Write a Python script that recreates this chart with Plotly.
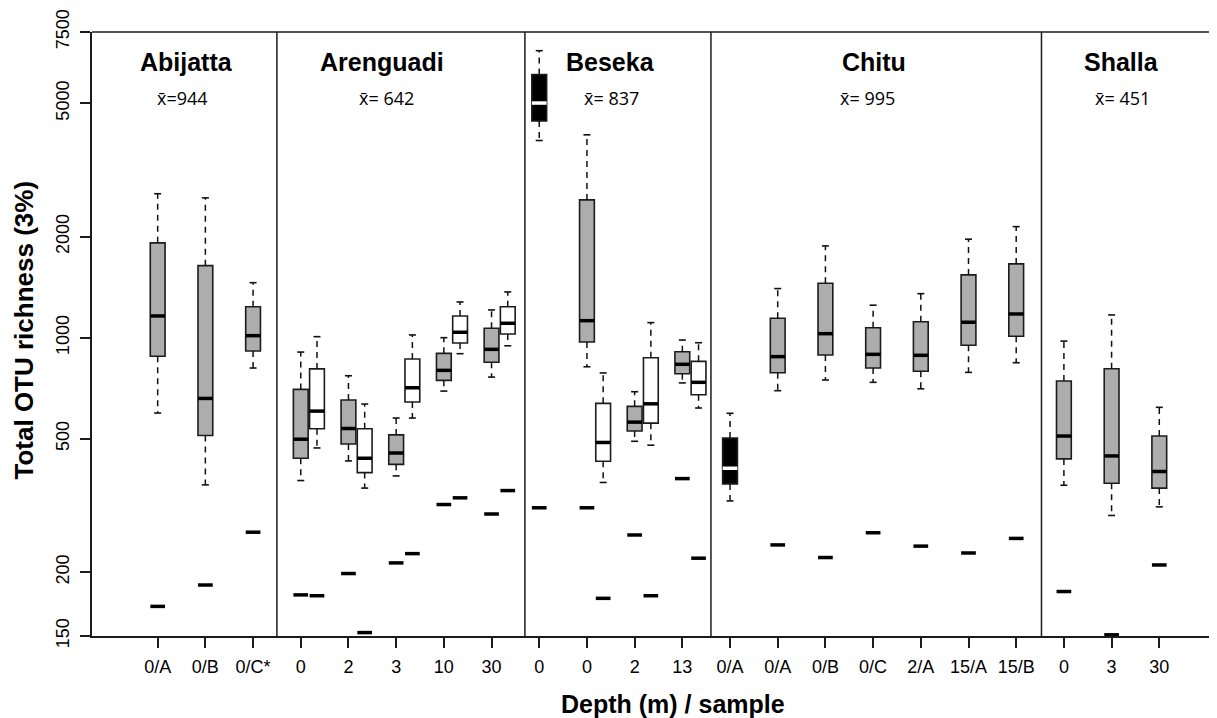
import plotly.graph_objects as go

# ---------------- data ----------------
tick_labels = ["0/A", "0/B", "0/C*",
               "0", "2", "3", "10", "30",
               "0", "0", "2", "13",
               "0/A", "0/A", "0/B", "0/C", "2/A", "15/A", "15/B",
               "0", "3", "30"]

lakes = ["Abijatta", "Arenguadi", "Beseka", "Chitu", "Shalla"]
lake_means = ["x\u0304=944", "x\u0304= 642", "x\u0304= 837", "x\u0304= 995", "x\u0304= 451"]

# one entry per box: tick slot, fill kind, five-number summary, single-value dash
box_slot = [0, 1, 2,
            3, 3, 4, 4, 5, 5, 6, 6, 7, 7,
            8, 9, 9, 10, 10, 11, 11,
            12, 13, 14, 15, 16, 17, 18,
            19, 20, 21]
box_kind = ["gray", "gray", "gray",
            "gray", "white", "gray", "white", "gray", "white", "gray", "white", "gray", "white",
            "black", "gray", "white", "gray", "white", "gray", "white",
            "black", "gray", "gray", "gray", "gray", "gray", "gray",
            "gray", "gray", "gray"]
lower = [596, 364, 812,
         375, 469, 429, 356, 387, 576, 693, 896, 763, 946,
         3873, 819, 370, 491, 478, 733, 617,
         326, 695, 748, 736, 704, 788, 842,
         363, 295, 313]
q1 = [880, 511, 913,
      437, 535, 482, 396, 419, 643, 746, 964, 845, 1026,
      4426, 971, 428, 527, 556, 781, 676,
      366, 786, 888, 812, 794, 949, 1010,
      435, 368, 356]
median = [1161, 659, 1014,
          498, 604, 536, 437, 453, 709, 799, 1038, 923, 1104,
          5009, 1124, 487, 560, 635, 833, 736,
          408, 878, 1028, 892, 886, 1112, 1177,
          509, 444, 399]
q3 = [1918, 1640, 1237,
      701, 807, 652, 535, 513, 864, 898, 1161, 1067, 1237,
      6095, 2576, 637, 624, 871, 908, 850,
      502, 1143, 1453, 1071, 1116, 1539, 1660,
      743, 808, 509]
upper = [2687, 2612, 1459,
         906, 1007, 770, 634, 576, 1019, 1000, 1278, 1210, 1369,
         7175, 4027, 785, 690, 1109, 984, 966,
         595, 1401, 1878, 1250, 1353, 1967, 2144,
         977, 1169, 620]
single = [158, 183, 263,
          171, 170, 198, 132, 213, 227, 318, 333, 298, 350,
          311, 311, 167, 258, 170, 380, 220,
          None, 241, 221, 262, 239, 228, 252,
          175, 130, 210]

# ---------------- layout constants ----------------
WHITE_SHIFT = 0.34
BOX_W = 0.31
X_RANGE = [-1.377, 22.21]
Y_RANGE = [2.1104, 3.9116]           # log10 units
panel_bounds = [2.5, 7.7, 11.6, 18.53]
title_x = [0.61, 4.71, 9.50, 15.01, 20.2]
mean_x = [0.52, 4.79, 9.52, 14.89, 20.22]

FILL = {"gray": "#ADADAD", "white": "#FFFFFF", "black": "#000000"}
EDGE = "#1c1c1c"
FONT = "Liberation Sans, Arial, sans-serif"

xpos = [s + (WHITE_SHIFT if k == "white" else 0) for s, k in zip(box_slot, box_kind)]

fig = go.Figure()

# boxes
for kind in ["gray", "white", "black"]:
    idx = [i for i, k in enumerate(box_kind) if k == kind]
    fig.add_trace(go.Bar(
        x=[xpos[i] for i in idx],
        base=[q1[i] for i in idx],
        y=[q3[i] - q1[i] for i in idx],
        width=BOX_W,
        marker=dict(color=FILL[kind], line=dict(color=EDGE, width=1.6)),
        showlegend=False, hoverinfo="skip"))

# whiskers
wx, wy = [], []
for i in range(len(xpos)):
    wx += [xpos[i], xpos[i], None, xpos[i], xpos[i], None]
    wy += [q3[i], upper[i], None, q1[i], lower[i], None]
fig.add_trace(go.Scatter(x=wx, y=wy, mode="lines",
                         line=dict(color="#111111", width=1.5, dash="6px,5px"),
                         showlegend=False, hoverinfo="skip"))
# whisker caps
fig.add_trace(go.Scatter(x=xpos + xpos, y=upper + lower, mode="markers",
                         marker=dict(symbol="line-ew", size=5, line=dict(color="#111111", width=1.6)),
                         showlegend=False, hoverinfo="skip"))

# medians
MED_SIZE = 10.5
for kind, col in [("gray", "#000000"), ("white", "#000000"), ("black", "#FFFFFF")]:
    idx = [i for i, k in enumerate(box_kind) if k == kind]
    fig.add_trace(go.Scatter(
        x=[xpos[i] for i in idx], y=[median[i] for i in idx], mode="markers",
        marker=dict(symbol="line-ew", size=MED_SIZE, line=dict(color=col, width=3.5)),
        showlegend=False, hoverinfo="skip"))

# single-value dashes
sidx = [i for i in range(len(single)) if single[i] is not None]
fig.add_trace(go.Scatter(
    x=[xpos[i] for i in sidx], y=[single[i] for i in sidx], mode="markers",
    marker=dict(symbol="line-ew", size=MED_SIZE, line=dict(color="#000000", width=3.5)),
    showlegend=False, hoverinfo="skip"))

# panel separators and top border
shapes = [dict(type="line", xref="x", yref="paper", x0=b, x1=b, y0=0, y1=1,
               line=dict(color=EDGE, width=1.5)) for b in panel_bounds]
shapes.append(dict(type="line", xref="paper", yref="paper", x0=0, x1=1, y0=1, y1=1,
                   line=dict(color=EDGE, width=1.5)))

annotations = []
for name, tx in zip(lakes, title_x):
    annotations.append(dict(x=tx, y=0.951, xref="x", yref="paper", text="<b>" + name + "</b>",
                            showarrow=False, font=dict(family=FONT, size=25, color="#000"),
                            xanchor="center", yanchor="middle"))
for m, mx in zip(lake_means, mean_x):
    annotations.append(dict(x=mx, y=0.891, xref="x", yref="paper", text=m,
                            showarrow=False, font=dict(family="Open Sans, sans-serif", size=18, color="#000"),
                            xanchor="center", yanchor="middle"))
annotations.append(dict(x=0.5164, y=-0.113, xref="paper", yref="paper",
                        text="<b>Depth (m) / sample</b>", showarrow=False,
                        font=dict(family=FONT, size=25, color="#000"),
                        xanchor="center", yanchor="middle"))
annotations.append(dict(x=-0.06, y=0.5066, xref="paper", yref="paper",
                        text="<b>Total OTU richness (3%)</b>", showarrow=False, textangle=-90,
                        font=dict(family=FONT, size=26, color="#000"),
                        xanchor="center", yanchor="middle"))

ytick_vals = [10 ** Y_RANGE[0], 200, 500, 1000, 2000, 5000, 10 ** Y_RANGE[1]]
ytick_text = ["150", "200", "500", "1000", "2000", "5000", "7500"]

# the page body adds an 8px offset, so the figure is 8px smaller and margins shifted
fig.update_layout(
    width=1209, height=710,
    margin=dict(l=84, r=0, t=24, b=82),
    paper_bgcolor="white", plot_bgcolor="white",
    barmode="overlay", showlegend=False,
    shapes=shapes, annotations=annotations,
    xaxis=dict(range=X_RANGE, tickmode="array", tickvals=list(range(len(tick_labels))),
               ticktext=tick_labels, ticks="outside", ticklen=10, tickwidth=1.5, tickcolor=EDGE,
               showline=True, linecolor=EDGE, linewidth=1.5, showgrid=False, zeroline=False,
               tickfont=dict(family=FONT, size=18, color="#000"), ticklabelstandoff=4),
    yaxis=dict(type="log", range=Y_RANGE, tickmode="array", tickvals=ytick_vals, ticktext=ytick_text,
               tickangle=-90, ticks="outside", ticklen=10, tickwidth=1.5, tickcolor=EDGE,
               showline=True, linecolor=EDGE, linewidth=1.5, showgrid=False, zeroline=False,
               tickfont=dict(family=FONT, size=18, color="#000"), ticklabelstandoff=4),
)

fig.write_html("out.html")
